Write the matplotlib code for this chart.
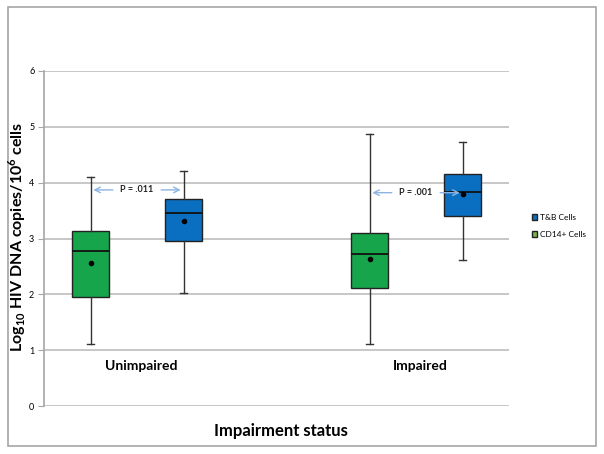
import matplotlib.pyplot as plt
from matplotlib.patches import Rectangle, Patch

plt.rcParams['font.family'] = ['Lato', 'DejaVu Sans']
plt.rcParams['mathtext.fontset'] = 'custom'
plt.rcParams['mathtext.rm'] = 'Lato'
plt.rcParams['mathtext.bf'] = 'Lato:bold'

# box stats (log10 copies / 10^6 cells)
groups = ["Unimpaired", "Impaired"]
cell_types = ["T&B Cells", "CD14+ Cells"]
positions = [0.5, 1.5, 3.5, 4.5]
box_labels = ["CD14 unimpaired", "T&B unimpaired", "CD14 impaired", "T&B impaired"]
whislo = [1.11, 2.02, 1.11, 2.61]
q1 = [1.95, 2.96, 2.11, 3.41]
med = [2.78, 3.46, 2.72, 3.84]
q3 = [3.14, 3.71, 3.10, 4.16]
whishi = [4.10, 4.21, 4.87, 4.73]
means = [2.56, 3.32, 2.63, 3.80]
p_values = ["P = .011", "P = .001"]
p_height = [3.87, 3.82]

green = "#16A54A"
blue = "#0B6FC1"
colors = [green, blue, green, blue]

fig = plt.figure(figsize=(6.04, 4.54), dpi=100)
ax = fig.add_axes([44 / 604, 1 - 406 / 454, 465 / 604, 335 / 454])

stats = []
for i in range(4):
    stats.append(dict(label=box_labels[i], whislo=whislo[i], q1=q1[i], med=med[i],
                      q3=q3[i], whishi=whishi[i], mean=means[i], fliers=[]))

bp = ax.bxp(stats, positions=positions, widths=0.39, showmeans=True,
            patch_artist=True, manage_ticks=False,
            boxprops=dict(edgecolor="#222222", linewidth=1.0),
            medianprops=dict(color="#111111", linewidth=1.3),
            whiskerprops=dict(color="#333333", linewidth=1.0),
            capprops=dict(color="#333333", linewidth=1.0),
            meanprops=dict(marker="o", markerfacecolor="black",
                           markeredgecolor="black", markersize=3))
for patch, c in zip(bp["boxes"], colors):
    patch.set_facecolor(c)
for cap in bp["caps"]:
    x = cap.get_xdata()
    mid = (x[0] + x[1]) / 2
    cap.set_xdata([mid - 0.04, mid + 0.04])

ax.set_xlim(0, 5)
ax.set_ylim(0, 6)
ax.set_yticks(range(0, 7))
ax.set_xticks([])
ax.yaxis.grid(True, color="#BEBEBE", linewidth=1.2)
ax.set_axisbelow(True)
for s in ["top", "right", "bottom"]:
    ax.spines[s].set_visible(False)
ax.spines["left"].set_color("#A6A6A6")
ax.spines["left"].set_linewidth(1.2)
ax.tick_params(axis="y", labelsize=6.5, length=4, color="#A6A6A6", pad=3)

# p-value arrows between the two boxes of each group
for k in range(2):
    x0 = positions[2 * k]
    x1 = positions[2 * k + 1]
    xm = (x0 + x1) / 2
    y = p_height[k]
    ax.text(xm, y, p_values[k], ha="center", va="center", fontsize=6.5,
            fontweight="bold", color="#222222")
    for xe in (x0, x1):
        xs = xm - 0.23 if xe < xm else xm + 0.23
        ax.annotate("", xy=(xe, y), xytext=(xs, y),
                    arrowprops=dict(arrowstyle="->", color="#8EB4E3", lw=1.0))

ax.text(1.05, 0.72, groups[0], ha="center", va="center", fontsize=10, fontweight="bold")
ax.text(4.05, 0.72, groups[1], ha="center", va="center", fontsize=10, fontweight="bold")

fig.text(17 / 604, 1 - 237 / 454,
         r"Log$_\mathbf{10}$ HIV DNA copies/10$^\mathbf{6}$ cells",
         rotation=90, ha="center", va="center", fontsize=11.5, fontweight="bold")
fig.text(281 / 604, 1 - 431 / 454, "Impairment status", ha="center", va="center",
         fontsize=12, fontweight="bold")

handles = [Patch(facecolor=blue, edgecolor="#222222"),
           Patch(facecolor="#7DB24A", edgecolor="#222222")]
fig.legend(handles, cell_types, loc="center left", bbox_to_anchor=(524 / 604, 1 - 226 / 454),
           frameon=False, fontsize=6, handlelength=0.7, handleheight=0.7,
           handletextpad=0.3, labelspacing=1.2)

fig.patches.append(Rectangle((8 / 604, 1 - 446 / 454), 588 / 604, 439 / 454,
                             transform=fig.transFigure, fill=False,
                             edgecolor="#A6A6A6", linewidth=1.2))

fig.savefig("out.png", dpi=100)
